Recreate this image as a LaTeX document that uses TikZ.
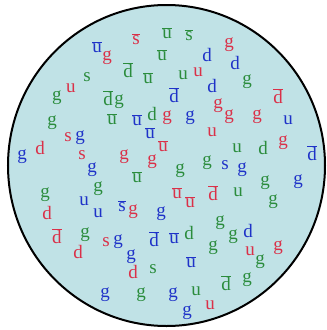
\documentclass[tikz,border=0pt]{standalone}
\usepackage{fontspec}
\setmainfont{Liberation Serif}
\definecolor{qred}{RGB}{218,48,72}
\definecolor{qgreen}{RGB}{42,140,60}
\definecolor{qblue}{RGB}{30,50,200}
\definecolor{bgblue}{RGB}{192,226,230}
\newcommand\ob[1]{\ensuremath{\overline{\mbox{#1}}}}
\begin{document}
\begin{tikzpicture}[x=1pt,y=-1pt,
  lt/.style={inner sep=0pt, font=\fontsize{19}{19}\selectfont},
  R/.style={lt,text=qred},
  G/.style={lt,text=qgreen},
  B/.style={lt,text=qblue}]
\useasboundingbox (0,0) rectangle (327,330);
\draw[line width=2pt, fill=bgblue] (166.5,165.5) ellipse [x radius=158.5pt, y radius=160.5pt];
\node[B] (n1) at (97,47) {\ob{u}};
\node[R] (n2) at (107,58) {g};
\node[R] (n3) at (136,39) {\ob{s}};
\node[G] (n4) at (167,33) {\ob{u}};
\node[G] (n5) at (189,35) {\ob{s}};
\node[G] (n6) at (162,55) {\ob{u}};
\node[B] (n7) at (207,55) {d};
\node[R] (n8) at (229,45) {g};
\node[B] (n9) at (235,63) {d};
\node[R] (n10) at (198,72) {u};
\node[G] (n11) at (183,75) {u};
\node[G] (n12) at (128,70) {\ob{d}};
\node[G] (n13) at (148,78) {\ob{u}};
\node[G] (n14) at (87,77) {s};
\node[R] (n15) at (71,88) {u};
\node[G] (n16) at (57,98) {g};
\node[G] (n17) at (108,98) {\ob{d}};
\node[G] (n18) at (119,102) {g};
\node[G] (n19) at (247,82) {g};
\node[B] (n20) at (174,95) {\ob{d}};
\node[B] (n21) at (212,86) {d};
\node[R] (n22) at (218,106) {g};
\node[R] (n23) at (278,96) {\ob{d}};
\node[G] (n24) at (52,123) {g};
\node[G] (n25) at (112,119) {\ob{u}};
\node[B] (n26) at (137,120) {\ob{u}};
\node[G] (n27) at (152,114) {d};
\node[R] (n28) at (167,118) {g};
\node[B] (n29) at (190,118) {g};
\node[R] (n30) at (229,117) {g};
\node[R] (n31) at (257,117) {g};
\node[B] (n32) at (288,120) {u};
\node[B] (n33) at (150,133) {\ob{u}};
\node[R] (n34) at (68,137) {s};
\node[B] (n35) at (80,138) {g};
\node[R] (n36) at (212,132) {u};
\node[B] (n37) at (22,157) {g};
\node[R] (n38) at (40,148) {d};
\node[R] (n39) at (82,155) {s};
\node[R] (n40) at (124,157) {g};
\node[R] (n41) at (152,162) {g};
\node[R] (n42) at (163,146) {\ob{u}};
\node[G] (n43) at (237,148) {u};
\node[G] (n44) at (263,148) {d};
\node[R] (n45) at (283,143) {g};
\node[B] (n46) at (312,153) {\ob{d}};
\node[B] (n47) at (92,170) {g};
\node[G] (n48) at (137,177) {\ob{u}};
\node[G] (n49) at (180,171) {g};
\node[G] (n50) at (207,163) {g};
\node[B] (n51) at (225,165) {s};
\node[B] (n52) at (242,170) {g};
\node[G] (n53) at (265,183) {g};
\node[B] (n54) at (298,182) {g};
\node[G] (n55) at (98,189) {g};
\node[G] (n56) at (45,195) {g};
\node[B] (n57) at (84,201) {u};
\node[R] (n58) at (177,193) {\ob{u}};
\node[R] (n59) at (190,202) {\ob{u}};
\node[R] (n60) at (213,193) {\ob{d}};
\node[G] (n61) at (238,192) {u};
\node[G] (n62) at (273,202) {g};
\node[R] (n63) at (47,213) {d};
\node[B] (n64) at (98,213) {u};
\node[B] (n65) at (122,206) {\ob{s}};
\node[R] (n66) at (133,212) {g};
\node[B] (n67) at (161,214) {g};
\node[G] (n68) at (220,223) {g};
\node[R] (n69) at (57,236) {\ob{d}};
\node[G] (n70) at (85,235) {g};
\node[R] (n71) at (78,252) {d};
\node[R] (n72) at (106,242) {s};
\node[B] (n73) at (118,242) {g};
\node[B] (n74) at (154,239) {\ob{d}};
\node[B] (n75) at (174,238) {\ob{u}};
\node[G] (n76) at (189,233) {d};
\node[G] (n77) at (233,237) {g};
\node[B] (n78) at (248,231) {d};
\node[G] (n79) at (213,248) {g};
\node[R] (n80) at (250,251) {u};
\node[R] (n81) at (278,248) {g};
\node[G] (n82) at (260,262) {g};
\node[B] (n83) at (131,257) {g};
\node[R] (n84) at (133,272) {d};
\node[G] (n85) at (153,269) {s};
\node[B] (n86) at (191,262) {\ob{u}};
\node[G] (n87) at (226,283) {\ob{d}};
\node[G] (n88) at (247,280) {g};
\node[B] (n89) at (105,295) {g};
\node[G] (n90) at (141,295) {g};
\node[B] (n91) at (173,295) {g};
\node[G] (n92) at (196,291) {u};
\node[R] (n93) at (210,305) {u};
\node[B] (n94) at (187,313) {g};
\end{tikzpicture}
\end{document}
